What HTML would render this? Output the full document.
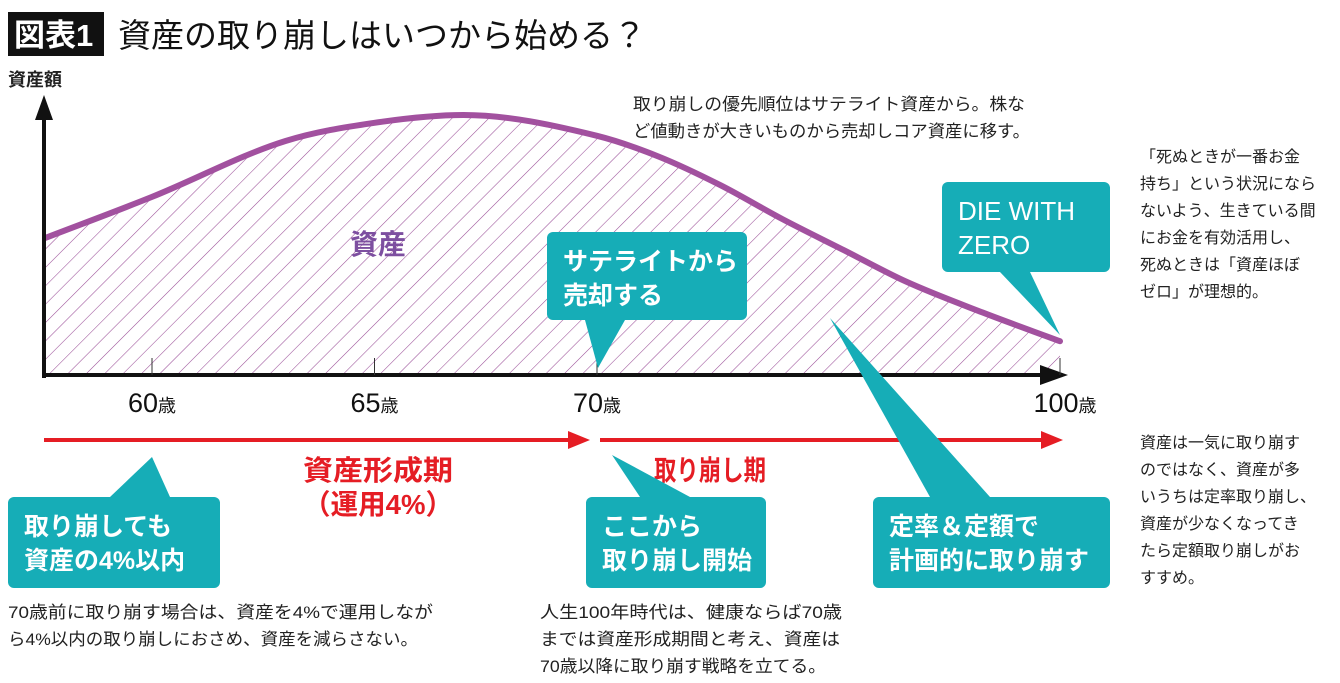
<!DOCTYPE html>
<html><head><meta charset="utf-8"><style>
body{margin:0;background:#fff;}
svg{display:block;font-family:"Liberation Sans","Noto Sans CJK JP",sans-serif;}
</style></head><body>
<svg id="c" width="1340" height="683" viewBox="0 0 1340 683">
<defs>
<pattern id="hatch" patternUnits="userSpaceOnUse" width="13" height="13" patternTransform="rotate(45)">
<line x1="0" y1="0" x2="0" y2="13" stroke="#9a4f98" stroke-width="1.1"/>
</pattern>
</defs>
<rect x="8" y="12" width="96" height="44" fill="#111"/>
<text x="14" y="46" font-size="31" font-weight="bold" fill="#fff">図表1</text>
<text x="118" y="47" font-size="33" fill="#111">資産の取り崩しはいつから始める？</text>
<text x="8" y="86" font-size="18" font-weight="bold" fill="#222">資産額</text>
<g id="plot"></g>
<g id="ann"></g>
</svg>
<script>
const ages=[57.6,60,63,65,67,70,74,78,82,86,90,95,100];
const assets=[52.7,68.5,90,97,100,92,84,73,60,48,36,24,13];
const tickAges=[60,65,70,100];
const tickLabels=['60','65','70','100'];
const NS='http://www.w3.org/2000/svg';
function xS(a){return a<=70?152+(a-60)*44.5:597+(a-70)*(1060-597)/30;}
function yS(v){return 375-v*2.6;}
function mk(t,at,p){const e=document.createElementNS(NS,t);for(const k in at)e.setAttribute(k,at[k]);(p||document.getElementById('plot')).appendChild(e);return e;}
const pts=ages.map((a,i)=>[xS(a),yS(assets[i])]);
function smooth(p){
 const n=p.length,d=[],m=[];
 for(let i=0;i<n-1;i++)d.push((p[i+1][1]-p[i][1])/(p[i+1][0]-p[i][0]));
 m[0]=d[0];m[n-1]=d[n-2];
 for(let i=1;i<n-1;i++)m[i]=d[i-1]*d[i]<=0?0:(d[i-1]+d[i])/2;
 let s='M'+p[0][0]+','+p[0][1];
 for(let i=0;i<n-1;i++){const h=(p[i+1][0]-p[i][0])/3;
  s+=`C${p[i][0]+h},${p[i][1]+m[i]*h},${p[i+1][0]-h},${p[i+1][1]-m[i+1]*h},${p[i+1][0]},${p[i+1][1]}`;}
 return s;}
const cd=smooth(pts);
const area=mk('path',{d:cd+`L${pts[pts.length-1][0]},375L${pts[0][0]},375Z`,fill:'url(#hatch)'});


const line=mk('path',{d:cd,fill:'none',stroke:'#a2519f','stroke-width':6,'stroke-linecap':'round'});


const ya=mk('line',{x1:44,y1:378,x2:44,y2:118,stroke:'#111','stroke-width':4});


const yh=mk('polygon',{points:'44,95 35,120 53,120',fill:'#111'});


const xa=mk('line',{x1:42,y1:375,x2:1040,y2:375,stroke:'#111','stroke-width':4});


const xh=mk('polygon',{points:'1068,375 1040,365 1040,385',fill:'#111'});


tickAges.forEach((a,i)=>{
 const t=mk('line',{x1:xS(a),y1:358,x2:xS(a),y2:375,stroke:'#333','stroke-width':1});
 
 
 const tx=mk('text',{x:xS(a)+(i==3?5:0),y:412,'font-size':27,'text-anchor':'middle',fill:'#111'});
 
 
 tx.innerHTML=tickLabels[i]+'<tspan font-size="18">歳</tspan>';
});
const lab=mk('text',{x:378,y:254,'font-size':28,'text-anchor':'middle',fill:'#7d4fa0','font-weight':'bold'});


lab.textContent='資産';
</script>
<script>
(function(){
const NS='http://www.w3.org/2000/svg',g=document.getElementById('ann');
function mk(t,at){const e=document.createElementNS(NS,t);for(const k in at)e.setAttribute(k,at[k]);g.appendChild(e);return e;}
[[44,590],[600,1063]].forEach(r=>{
 const l=mk('line',{x1:r[0],y1:440,x2:r[1]-18,y2:440,stroke:'#e51d24','stroke-width':4});
 
 
 const h=mk('polygon',{points:`${r[1]},440 ${r[1]-22},431 ${r[1]-22},449`,fill:'#e51d24'});
 
 
});
[['資産形成期',378,480,150],['（運用4%）',378,514,150],['取り崩し期',710,480,112]].forEach(t=>{
 const e=mk('text',{x:t[1],y:t[2],'font-size':28,'font-weight':'bold','text-anchor':'middle',fill:'#e51d24',textLength:t[3],lengthAdjust:'spacingAndGlyphs'});
 
 
 e.textContent=t[0];
});
const T='#16adb7';
const boxes=[
 [942,182,168,90,[[1000,272],[1030,272],[1060,335]],['DIE WITH','ZERO'],958,'callout-die-with-zero',26,false],
 [547,232,200,88,[[585,320],[625,320],[598,368]],['サテライトから','売却する'],563,'callout-satellite',25,true],
 [8,497,212,91,[[110,497],[170,497],[152,457]],['取り崩しても','資産の4%以内'],24,'callout-within-4pct',25,true],
 [586,497,180,91,[[640,497],[690,497],[612,455]],['ここから','取り崩し開始'],602,'callout-start',25,true],
 [873,497,237,91,[[930,497],[990,497],[830,318]],['定率＆定額で','計画的に取り崩す'],889,'callout-plan',25,true]
];
boxes.forEach(b=>{
 const r=mk('rect',{x:b[0],y:b[1],width:b[2],height:b[3],rx:6,fill:T});
 
 
 const p=mk('polygon',{points:b[4].map(q=>q.join(',')).join(' '),fill:T});
 
 
 b[5].forEach((s,i)=>{
  const t=mk('text',{x:b[6],y:b[1]+38+i*34,'font-size':b[8],'font-weight':b[9]?'bold':'normal',fill:'#fff'});
  
  
  t.textContent=s;
 });
});
const notes=[
 [633,110,27,17,['取り崩しの優先順位はサテライト資産から。株な','ど値動きが大きいものから売却しコア資産に移す。'],[392,397],'note-priority'],
 [1140,162,27,16,['「死ぬときが一番お金','持ち」という状況になら','ないよう、生きている間','にお金を有効活用し、','死ぬときは「資産ほぼ','ゼロ」が理想的。'],null,'note-die-with-zero'],
 [1140,448,27,16,['資産は一気に取り崩す','のではなく、資産が多','いうちは定率取り崩し、','資産が少なくなってき','たら定額取り崩しがお','すすめ。'],null,'note-method'],
 [8,618,27,17,['70歳前に取り崩す場合は、資産を4%で運用しなが','ら4%以内の取り崩しにおさめ、資産を減らさない。'],[425,410],'note-before-70'],
 [540,618,27,17,['人生100年時代は、健康ならば70歳','までは資産形成期間と考え、資産は','70歳以降に取り崩す戦略を立てる。'],[302,300,286],'note-100-years']
];
notes.forEach(n=>{
 n[4].forEach((s,i)=>{
  const at={x:n[0],y:n[1]+i*n[2],'font-size':n[3],fill:'#222'};
  if(n[5]){at.textLength=n[5][i];at.lengthAdjust='spacingAndGlyphs';}
  const t=mk('text',at);
  
  
  t.textContent=s;
 });
});
})();
</script>
</body></html>
